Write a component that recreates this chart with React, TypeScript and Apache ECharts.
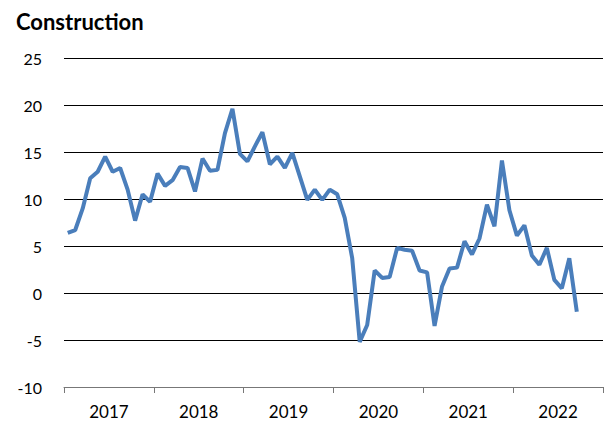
import React, { useEffect, useRef } from "react";
import * as echarts from "echarts";

const years = ["2017", "2018", "2019", "2020", "2021", "2022"];
const months = ["01", "02", "03", "04", "05", "06", "07", "08", "09", "10", "11", "12"];

const v2017 = [6.4, 6.7, 9.0, 12.2, 12.9, 14.5, 12.9, 13.3, 11.0, 7.7, 10.5, 9.7];
const v2018 = [12.7, 11.4, 12.0, 13.4, 13.3, 10.8, 14.3, 13.0, 13.1, 17.0, 19.6, 14.8];
const v2019 = [14.0, 15.6, 17.1, 13.7, 14.5, 13.3, 14.9, 12.4, 9.9, 11.0, 9.9, 11.0];
const v2020 = [10.5, 8.0, 3.7, -5.2, -3.4, 2.4, 1.6, 1.7, 4.8, 4.6, 4.5, 2.4];
const v2021 = [2.2, -3.5, 0.7, 2.6, 2.7, 5.5, 4.1, 5.8, 9.4, 7.1, 14.1, 8.8];
const v2022 = [6.1, 7.2, 4.0, 3.0, 4.8, 1.4, 0.5, 3.7, -2.0];

const yMin = -10;
const yMax = 25;
const yStep = 5;

export default function App() {
  const ref = useRef<HTMLDivElement>(null);
  useEffect(() => {
    if (!ref.current) return;
    const chart = echarts.init(ref.current, null, { renderer: "svg" });
    const cats: string[] = [];
    years.forEach((y) => months.forEach((m) => cats.push(`${y}-${m}`)));
    const values = [...v2017, ...v2018, ...v2019, ...v2020, ...v2021, ...v2022];
    const font = "Lato, 'Noto Sans', sans-serif";
    chart.setOption({
      animation: false,
      title: {
        text: "Construction",
        left: 11,
        top: 5,
        textStyle: { fontFamily: font, fontWeight: "bold", fontSize: 22, color: "#000" },
      },
      grid: { left: 64, right: 2, top: 58, bottom: 42, containLabel: false },
      xAxis: [
        {
          type: "category",
          data: cats,
          boundaryGap: true,
          axisLine: { show: true, onZero: false, lineStyle: { color: "#777", width: 1 } },
          axisTick: { show: true, interval: 11, length: 6, lineStyle: { color: "#777" } },
          axisLabel: { show: false },
          splitLine: { show: false },
        },
        {
          type: "category",
          data: years,
          position: "bottom",
          boundaryGap: true,
          axisLine: { show: false, onZero: false },
          axisTick: { show: false },
          axisLabel: { show: true, fontFamily: font, fontSize: 17, color: "#000", margin: 16 },
        },
      ],
      yAxis: {
        type: "value",
        min: yMin,
        max: yMax,
        interval: yStep,
        axisLine: { show: false },
        axisTick: { show: false },
        axisLabel: { fontFamily: font, fontSize: 16, color: "#000", margin: 22 },
        splitLine: { lineStyle: { color: "#000", width: 1 } },
      },
      series: [
        {
          type: "line",
          data: values,
          xAxisIndex: 0,
          showSymbol: false,
          symbol: "none",
          lineStyle: { color: "#4a7ebb", width: 4 },
        },
      ],
    });
    return () => chart.dispose();
  }, []);
  return <div ref={ref} style={{ width: 605, height: 429, position: "absolute", left: 0, top: 0 }} />;
}
